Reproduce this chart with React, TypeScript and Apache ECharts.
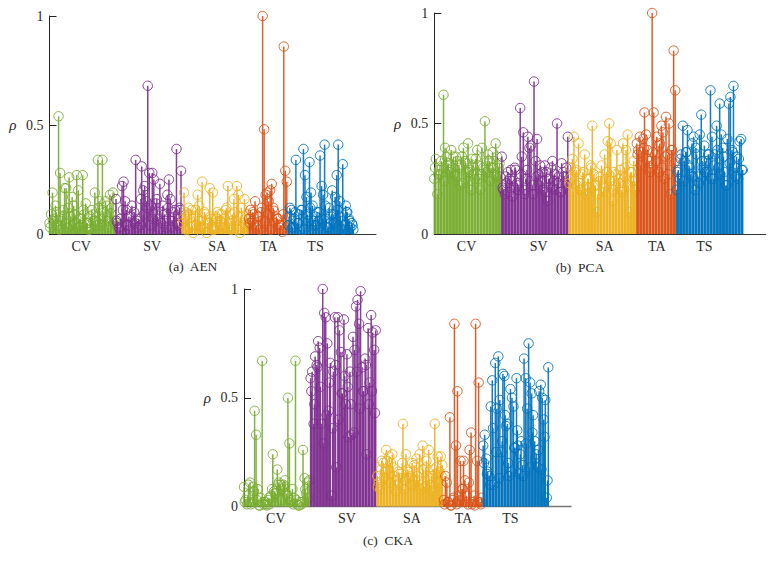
import React, { useEffect, useRef } from "react";
import * as echarts from "echarts";

const classNames = ["CV", "SV", "SA", "TA", "TS"];
const classColors = ["#77AC30", "#7E2F8E", "#EDB120", "#D95319", "#0072BD"];
const classLabelAt = [21, 68, 111, 145, 176];
const yTicks = [0, 0.5, 1];

const aenCV = [.05,.09,.19,.07,.13,.04,.54,.28,.06,.11,.21,.21,.03,.26,.08,.17,.13,.05,.27,.2,.07,.04,.27,.09,.14,.05,.02,.08,.11,.06,.19,.04,.34,.15,.07,.34,.1,.15,.13,.06,.18,.12,.19,.06];
const aenSV = [.16,.05,.03,.07,.22,.24,.15,.11,.04,.02,.08,.05,.1,.34,.06,.07,.04,.31,.2,.22,.15,.68,.28,.13,.28,.25,.09,.16,.07,.23,.05,.13,.09,.03,.18,.25,.16,.06,.1,.11,.39,.04,.12,.29];
const aenSA = [.05,.19,.1,.07,.12,.03,.11,.005,.08,.04,.18,.13,.06,.24,.03,.09,.005,.05,.21,.07,.19,.02,.08,.1,.04,.06,.09,.03,.07,.12,.22,.05,.02,.09,.16,.06,.22,.18,.005,.12,.03,.16,.07,.04];
const aenTA = [.07,.11,.06,.09,.15,.04,.08,.02,.1,1,.48,.18,.19,.15,.2,.23,.12,.05,.08,.07,.03,.04,.01,.86,.29,.24];
const aenTS = [.04,.12,.11,.03,.07,.34,.05,.09,.02,.11,.39,.27,.17,.06,.33,.19,.13,.04,.08,.1,.06,.36,.22,.18,.41,.07,.03,.12,.05,.2,.09,.17,.27,.41,.15,.06,.32,.04,.13,.1,.07,.03,.05,.02];

const pcaCV = [.25,.34,.18,.29,.27,.3,.63,.39,.35,.32,.29,.38,.3,.27,.35,.33,.31,.22,.35,.39,.33,.28,.41,.29,.2,.31,.27,.34,.38,.25,.2,.39,.3,.51,.28,.36,.33,.3,.37,.27,.41,.35,.3,.26];
const pcaSV = [.35,.2,.18,.23,.28,.25,.29,.17,.21,.29,.23,.2,.57,.35,.46,.18,.25,.44,.39,.4,.22,.69,.33,.43,.27,.31,.24,.2,.31,.28,.15,.25,.3,.33,.24,.2,.5,.26,.19,.32,.28,.23,.3,.44];
const pcaSA = [.23,.3,.34,.44,.28,.22,.41,.2,.2,.28,.36,.18,.25,.21,.31,.49,.27,.22,.1,.26,.24,.31,.19,.36,.25,.42,.5,.41,.15,.28,.22,.38,.25,.29,.2,.41,.3,.38,.45,.1,.28,.24,.33,.2];
const pcaTA = [.41,.38,.44,.37,.43,.55,.45,.38,.33,.3,1,.55,.36,.44,.28,.41,.49,.46,.25,.53,.36,.5,.18,.38,.83,.65];
const pcaTS = [.2,.29,.25,.36,.49,.33,.37,.47,.31,.27,.41,.44,.2,.36,.26,.45,.54,.3,.4,.33,.28,.36,.65,.44,.25,.36,.49,.3,.59,.45,.39,.28,.22,.43,.59,.62,.38,.67,.3,.35,.25,.42,.43,.29];

const ckaCV = [.09,.03,.01,.1,.11,.02,.09,.44,.33,.08,.005,.04,.67,.01,.02,.005,.03,.01,.05,.24,.07,.06,.17,.11,.1,.08,.1,.12,.06,.5,.29,.03,.08,.04,.67,.01,.005,.02,.01,.26,.13,.06,.11,.12];
const ckaSV = [.59,.62,.38,.69,.65,.76,.73,.38,1,.89,.87,.75,.44,.66,.05,.62,.87,.18,.87,.81,.71,.52,.86,.47,.7,.32,.62,.33,.78,.72,.92,.95,.84,.99,.64,.53,.68,.24,.82,.57,.88,.8,.72,.81];
const ckaSA = [.14,.11,.08,.21,.2,.16,.26,.17,.23,.2,.24,.14,.12,.1,.16,.13,.15,.38,.08,.24,.17,.13,.14,.2,.16,.12,.22,.12,.24,.1,.28,.09,.18,.12,.26,.1,.14,.17,.38,.18,.23,.16,.23,.19];
const ckaTA = [.03,.14,.11,.02,.41,.005,.03,.84,.28,.53,.05,.21,.08,.21,.12,.05,.01,.26,.34,.02,.05,.84,.21,.57,.02,.04];
const ckaTS = [.28,.33,.22,.16,.14,.46,.58,.1,.66,.45,.69,.49,.25,.61,.6,.37,.38,.14,.54,.5,.46,.27,.59,.28,.15,.3,.19,.68,.59,.45,.75,.57,.52,.42,.3,.24,.18,.53,.56,.5,.4,.49,.04,.64];

// Lower, denser stems read from the clutter under the tall ones.
const aenCVLow = [.03,.06,.1,.02,.08,.05,.12,.04,.09,.03,.07,.11,.05,.02,.09,.06,.12,.04,.08,.03,.1,.05];
const aenSVLow = [.06,.02,.11,.04,.08,.13,.05,.03,.16,.09,.12,.04,.07,.14,.02,.1,.06,.12,.03,.08,.05,.11];
const aenSALow = [.07,.02,.09,.04,.11,.06,.03,.1,.05,.08,.02,.07,.09,.04,.11,.03,.06,.1,.02,.08,.05,.09];
const aenTALow = [.05,.1,.03,.08,.12,.06,.09,.02,.11,.07,.04,.09,.03];
const aenTSLow = [.08,.03,.1,.05,.11,.02,.09,.12,.06,.04,.1,.07,.13,.03,.09,.05,.11,.08,.02,.1,.06,.04];

const pcaCVLow = [.3,.27,.33,.24,.31,.28,.35,.26,.3,.23,.32,.28,.34,.25,.31,.27,.29,.33,.24,.3,.26,.32];
const pcaSVLow = [.21,.26,.19,.24,.3,.22,.27,.2,.29,.24,.18,.26,.22,.28,.19,.25,.21,.27,.23,.19,.26,.22];
const pcaSALow = [.25,.19,.29,.23,.27,.2,.25,.3,.22,.18,.26,.21,.28,.24,.2,.27,.23,.19,.26,.22,.28,.24];
const pcaTALow = [.36,.31,.39,.34,.28,.37,.33,.4,.3,.35,.27,.38,.32];
const pcaTSLow = [.28,.34,.24,.37,.3,.26,.39,.23,.33,.28,.36,.25,.31,.38,.27,.35,.22,.32,.37,.26,.34,.29];

const ckaCVLow = [.02,.05,.01,.07,.03,.005,.02,.01,.04,.08,.06,.1,.03,.09,.05,.02,.01,.03,.005,.02,.08,.04];
const ckaSVLow = [.53,.47,.64,.55,.29,.42,.57,.36,.65,.4,.52,.6,.55,.47,.34,.62,.45,.53,.65,.47,.53,.43];
const ckaSALow = [.09,.17,.13,.21,.11,.18,.07,.15,.2,.12,.16,.1,.19,.14,.08,.17,.21,.13,.07,.15,.11,.14];
const ckaTALow = [.01,.02,.005,.04,.01,.03,.08,.02,.11,.01,.005,.02,.01];
const ckaTSLow = [.2,.15,.1,.36,.25,.13,.3,.42,.2,.16,.27,.35,.24,.14,.29,.18,.34,.22,.26,.17,.32,.12];

const panels = [
  { caption: "(a)  AEN", capX: 193, capY: 266, left: 49.5, top: 16, width: 326.5, height: 218,
    groups: [aenCV, aenSV, aenSA, aenTA, aenTS], lows: [aenCVLow, aenSVLow, aenSALow, aenTALow, aenTSLow] },
  { caption: "(b)  PCA", capX: 580, capY: 267, left: 434.3, top: 13, width: 331.4, height: 221,
    groups: [pcaCV, pcaSV, pcaSA, pcaTA, pcaTS], lows: [pcaCVLow, pcaSVLow, pcaSALow, pcaTALow, pcaTSLow] },
  { caption: "(c)  CKA", capX: 388, capY: 540, left: 244, top: 289, width: 327, height: 217.5,
    groups: [ckaCV, ckaSV, ckaSA, ckaTA, ckaTS], lows: [ckaCVLow, ckaSVLow, ckaSALow, ckaTALow, ckaTSLow] },
];

const SERIF = "Liberation Serif";
const INK = "#2b2b2b";

function renderStem(_: any, api: any) {
  const x = api.value(0);
  const y = api.value(1);
  const head = api.coord([x, y]);
  const foot = api.coord([x, 0]);
  const color = api.visual("color");
  return {
    type: "group",
    children: [
      { type: "line", shape: { x1: head[0], y1: head[1], x2: foot[0], y2: foot[1] }, style: { stroke: color, lineWidth: 1.5, opacity: 0.92 } },
      { type: "circle", shape: { cx: head[0], cy: head[1], r: 4.7 }, style: { fill: "none", stroke: color, lineWidth: 0.9 } },
    ],
  };
}

function buildOption() {
  const grid: any[] = [];
  const xAxis: any[] = [];
  const yAxis: any[] = [];
  const title: any[] = [];
  const series: any[] = [];
  panels.forEach((p, i) => {
    grid.push({ left: p.left, top: p.top, width: p.width, height: p.height });
    title.push({
      text: p.caption, left: p.capX, top: p.capY - 7, textAlign: "center", padding: 0,
      textStyle: { fontFamily: SERIF, fontSize: 13.5, fontWeight: "normal", color: INK },
    });
    xAxis.push({
      type: "value", gridIndex: i, min: 0, max: 216, splitLine: { show: false },
      axisLine: { show: true, onZero: false, lineStyle: { color: i === 2 ? "#777" : "#333", width: i === 2 ? 1.4 : 1 } },
      axisTick: { show: false },
      axisLabel: {
        customValues: classLabelAt, margin: 5, fontFamily: SERIF, fontSize: 14, color: INK,
        formatter: (v: number) => classNames[classLabelAt.indexOf(v)] ?? "",
      },
    });
    yAxis.push({
      type: "value", gridIndex: i, min: 0, max: 1, interval: 0.5, splitLine: { show: false },
      name: "ρ", nameLocation: "middle", nameRotate: 0, nameGap: 33,
      nameTextStyle: { fontFamily: SERIF, fontSize: 15, fontStyle: "italic", color: INK, padding: [6, 0, 0, 0] },
      axisLine: { show: true, lineStyle: { color: "#222", width: 1 } },
      axisTick: { show: true, inside: true, length: 7, lineStyle: { color: "#222" } },
      axisLabel: {
        customValues: yTicks, margin: 6, fontFamily: SERIF, fontSize: 14, color: INK,
        formatter: (v: number) => String(v),
      },
    });
    let offset = 0;
    p.groups.forEach((values, c) => {
      const start = offset;
      const tall = values.map((v, k) => [start + k, v]);
      const low = p.lows[c].map((v, k) => [start + 2 * k + 0.5, v]);
      series.push({
        type: "custom", name: `${p.caption} ${classNames[c]}`, xAxisIndex: i, yAxisIndex: i, clip: false,
        itemStyle: { color: classColors[c] }, renderItem: renderStem,
        data: [...tall, ...low],
      });
      offset += values.length;
    });
  });
  return { animation: false, backgroundColor: "#fff", title, grid, xAxis, yAxis, series };
}

export default function App() {
  const ref = useRef<HTMLDivElement>(null);
  useEffect(() => {
    const chart = echarts.init(ref.current!, null, { renderer: "svg" });
    chart.setOption(buildOption() as any);
    return () => chart.dispose();
  }, []);
  return <div ref={ref} style={{ position: "absolute", left: 0, top: 0, width: 774, height: 566 }} />;
}
